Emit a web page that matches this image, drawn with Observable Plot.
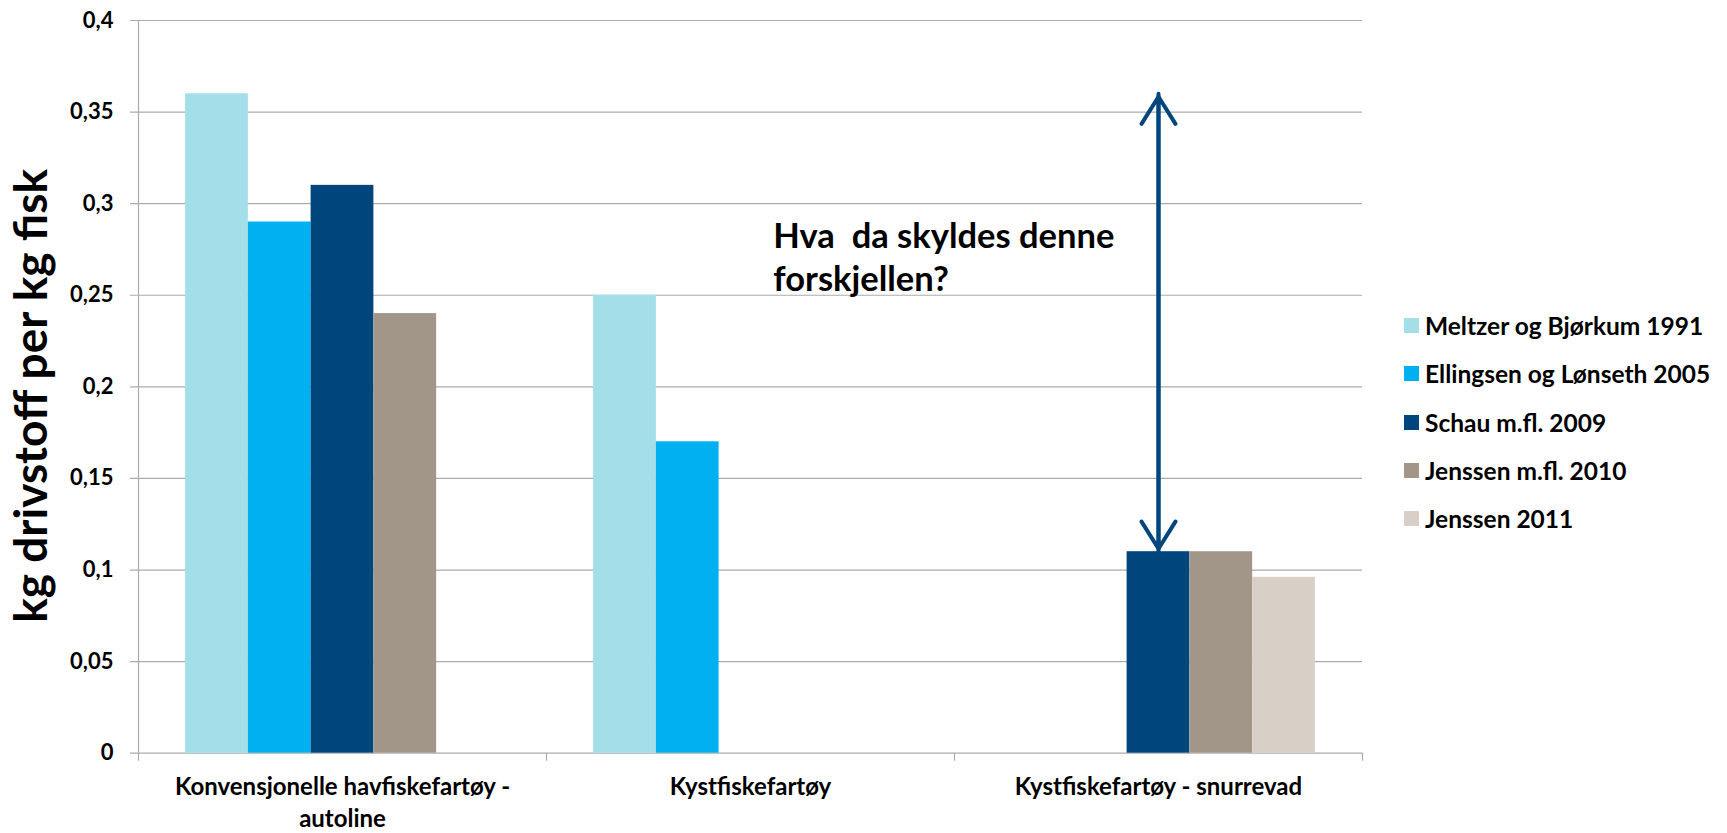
<!DOCTYPE html>
<html><head><meta charset="utf-8">
<script src="https://cdn.jsdelivr.net/npm/d3@7"></script>
<script src="https://cdn.jsdelivr.net/npm/@observablehq/plot@0.6"></script>
<style>
html,body{margin:0;padding:0;background:#fff;}
#wrap{position:relative;width:1727px;height:833px;font-family:Lato, "Open Sans", sans-serif;}
svg text{white-space:pre;}
#legend{position:absolute;left:1404px;top:301.5px;}
.row{display:flex;align-items:center;height:48.3px;font-weight:bold;font-size:24.5px;color:#000;white-space:nowrap;}
.sw{width:15px;height:15px;margin-right:6px;flex:none;}
</style></head><body><div id="wrap"></div>
<script>
// ---- data ----
const categories = ["Konvensjonelle havfiskefartøy - autoline", "Kystfiskefartøy", "Kystfiskefartøy - snurrevad"];
const seriesNames = ["Meltzer og Bjørkum 1991", "Ellingsen og Lønseth 2005", "Schau m.fl. 2009", "Jenssen m.fl. 2010", "Jenssen 2011"];
const seriesColors = ["#A4DEE8", "#00B0F0", "#00457C", "#A29689", "#D8D0C7"];
const meltzer1991 = [0.36, 0.25, null];
const ellingsen2005 = [0.29, 0.17, null];
const schau2009 = [0.31, null, 0.11];
const jenssen2010 = [0.24, null, 0.11];
const jenssen2011 = [null, null, 0.096];
const yTicks = [0, 0.05, 0.1, 0.15, 0.2, 0.25, 0.3, 0.35, 0.4];
const categoryBounds = [0, 1, 2, 3];
const yLabel = "kg drivstoff per kg fisk";
const annotationText = "Hva  da skyldes denne\nforskjellen?";
// arrow: from the highest value (Meltzer, autoline) down to Schau 2009 (snurrevad)
const arrowTop = 0.36;
const arrowBottom = 0.11;

// ---- build table ----
const seriesValues = [meltzer1991, ellingsen2005, schau2009, jenssen2010, jenssen2011];
const rows = [];
seriesValues.forEach((vals, si) => vals.forEach((v, ci) => {
  if (v != null) rows.push({category: categories[ci], ci, series: seriesNames[si], si, value: v});
}));

const slots = seriesNames.length;
const outerPad = 0.75; // gap on each side of a group, in bar widths
const slotX1 = (ci, si) => ci + (outerPad + si) / (slots + 2 * outerPad);
const slotX2 = (ci, si) => ci + (outerPad + si + 1) / (slots + 2 * outerPad);
const slotMid = (ci, si) => (slotX1(ci, si) + slotX2(ci, si)) / 2;

const arrowX = slotMid(2, 2);
const arrows = [
  {x: arrowX, y1: arrowBottom, y2: arrowTop},
  {x: arrowX, y1: arrowTop, y2: arrowBottom}
];
const fmt = d => d3.format("")(d).replace(".", ",");
const grid = "#ABABAB";

const chart = Plot.plot({
  width: 1727,
  height: 833,
  marginLeft: 138,
  marginRight: 365,
  marginTop: 20,
  marginBottom: 80.3,
  style: {fontFamily: "Lato, 'Open Sans', sans-serif", background: "#fff", color: "#000"},
  x: {domain: [0, categories.length], axis: null},
  y: {domain: [0, 0.4], axis: null},
  color: {domain: seriesNames, range: seriesColors},
  marks: [
    Plot.ruleY(yTicks, {stroke: grid, strokeWidth: 1.2, insetLeft: -8}),
    Plot.ruleX([0], {stroke: grid, strokeWidth: 1.2}),
    Plot.axisX({ticks: categoryBounds, tickSize: 8, tickFormat: () => "", color: grid, strokeWidth: 1.2, label: null}),
    Plot.axisY({ticks: yTicks, tickSize: 0, tickPadding: 25, tickFormat: fmt, fontSize: 22, fontWeight: "bold", fill: "#000", label: null}),
    Plot.rectY(rows, {x1: d => slotX1(d.ci, d.si), x2: d => slotX2(d.ci, d.si), y1: 0, y2: "value", fill: "series"}),
    Plot.text(categories, {x: (d, i) => i + 0.5, frameAnchor: "bottom", lineAnchor: "top", dy: 18.6, fontSize: 24, fontWeight: "bold", fill: "#000", lineWidth: 18, lineHeight: 1.333}),
    Plot.arrow(arrows, {x1: "x", x2: "x", y1: "y1", y2: "y2", stroke: "#00457C", strokeWidth: 4, headLength: 12, headAngle: 64, insetEnd: 3}),
    Plot.text([annotationText], {x: () => 1.556, y: () => 0.2925, textAnchor: "start", lineAnchor: "top", fontSize: 34.5, fontWeight: "bold", fill: "#000", lineHeight: 1.246}),
    Plot.text([yLabel], {frameAnchor: "left", rotate: -90, textAnchor: "middle", lineAnchor: "middle", dx: -106, dy: 9, fontSize: 46, fontWeight: "bold", fill: "#000"})
  ]
});

const wrap = document.getElementById("wrap");
wrap.appendChild(chart);
const legend = document.createElement("div");
legend.id = "legend";
seriesNames.forEach((name, i) => {
  const row = document.createElement("div");
  row.className = "row";
  const sw = document.createElement("span");
  sw.className = "sw";
  sw.style.background = seriesColors[i];
  const t = document.createElement("span");
  t.textContent = name;
  row.appendChild(sw); row.appendChild(t);
  legend.appendChild(row);
});
wrap.appendChild(legend);
</script>
</body></html>
